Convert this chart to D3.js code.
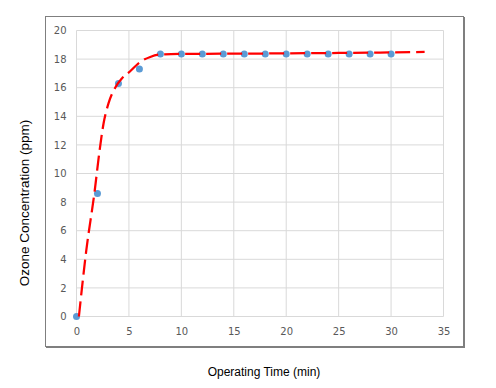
<!DOCTYPE html>
<html>
<head>
<meta charset="utf-8">
<script src="https://cdn.jsdelivr.net/npm/d3@7"></script>
<style>
  body { margin: 0; background: #fff; }
  svg { display: block; }
</style>
</head>
<body>
<div id="viz-container"></div>
<script>
// measured points
let timeMin = [0, 2, 4, 6, 8, 10, 12, 14, 16, 18, 20, 22, 24, 26, 28, 30];
let ozonePpm = [0, 8.6, 16.3, 17.3, 18.35, 18.35, 18.35, 18.35, 18.35, 18.35, 18.35, 18.35, 18.35, 18.35, 18.35, 18.35];

// fitted trend line
let fitTime = [0.23, 0.93, 1.72, 2.2, 2.58, 3.05, 3.69, 4.33, 5.12, 6.07, 7.03, 7.98, 10, 15, 20, 25, 30, 33.2];
let fitPpm = [0, 4.6, 8.7, 11.6, 13.5, 14.9, 16.0, 16.65, 17.15, 17.8, 18.15, 18.32, 18.36, 18.38, 18.4, 18.43, 18.47, 18.5];

let xTicks = [0, 5, 10, 15, 20, 25, 30, 35];
let yTicks = [0, 2, 4, 6, 8, 10, 12, 14, 16, 18, 20];

let W = 496, H = 388;

let viz = d3.select("#viz-container")
  .append("svg")
    .attr("width", W)
    .attr("height", H)
;

// chart frame
viz.append("rect")
    .attr("x", 45.5).attr("y", 16.5)
    .attr("width", 418).attr("height", 330)
    .attr("fill", "white")
    .attr("stroke", "#7f7f7f")
    .attr("stroke-width", 1)
;
viz.append("line")  // thicker right edge
    .attr("x1", 464.5).attr("x2", 464.5).attr("y1", 17).attr("y2", 348)
    .attr("stroke", "#7f7f7f")
;
viz.append("line")  // thicker bottom edge
    .attr("x1", 46).attr("x2", 465).attr("y1", 347.5).attr("y2", 347.5)
    .attr("stroke", "#7f7f7f")
;

let x = d3.scaleLinear().domain([0, 35]).range([76.5, 443.5]);
let y = d3.scaleLinear().domain([0, 20]).range([316.5, 30.5]);

// gridlines
viz.append("g").selectAll("line").data(xTicks).join("line")
    .attr("x1", d => x(d)).attr("x2", d => x(d))
    .attr("y1", y(0)).attr("y2", y(20))
    .attr("stroke", "#d9d9d9")
;
viz.append("g").selectAll("line").data(yTicks).join("line")
    .attr("x1", x(0)).attr("x2", x(35))
    .attr("y1", d => y(d)).attr("y2", d => y(d))
    .attr("stroke", "#d9d9d9")
;

// axes (labels only)
let xAxis = viz.append("g")
    .attr("transform", "translate(0," + y(0) + ")")
    .call(d3.axisBottom(x).tickValues(xTicks).tickSize(0).tickPadding(11));
let yAxis = viz.append("g")
    .attr("transform", "translate(" + x(0) + ",0)")
    .call(d3.axisLeft(y).tickValues(yTicks).tickSize(0).tickPadding(10));
[xAxis, yAxis].forEach(a => {
  a.select(".domain").remove();
  a.selectAll("text")
    .attr("fill", "#595959")
    .style("font-family", "'DejaVu Sans', sans-serif")
    .style("font-size", "10px");
});

// data points
viz.append("g").selectAll("circle").data(timeMin).join("circle")
    .attr("cx", d => x(d))
    .attr("cy", (d, i) => y(ozonePpm[i]))
    .attr("r", 3.5)
    .attr("fill", "#5b9bd5")
;

// trend line
let line = d3.line()
    .x(d => x(d))
    .y((d, i) => y(fitPpm[i]))
    .curve(d3.curveMonotoneX);

viz.append("path")
    .attr("d", line(fitTime))
    .attr("fill", "none")
    .attr("stroke", "#ff0000")
    .attr("stroke-width", 2.25)
    .attr("stroke-dasharray", "15,6")
;

// axis titles
viz.append("text")
    .attr("x", 264).attr("y", 376)
    .attr("text-anchor", "middle")
    .style("font-family", "Arial, 'Liberation Sans', sans-serif")
    .style("font-size", "12px")
    .text("Operating Time (min)")
;
viz.append("text")
    .attr("transform", "translate(29,203) rotate(-90)")
    .attr("text-anchor", "middle")
    .style("font-family", "Arial, 'Liberation Sans', sans-serif")
    .style("font-size", "13.5px")
    .text("Ozone Concentration (ppm)")
;
</script>
</body>
</html>
